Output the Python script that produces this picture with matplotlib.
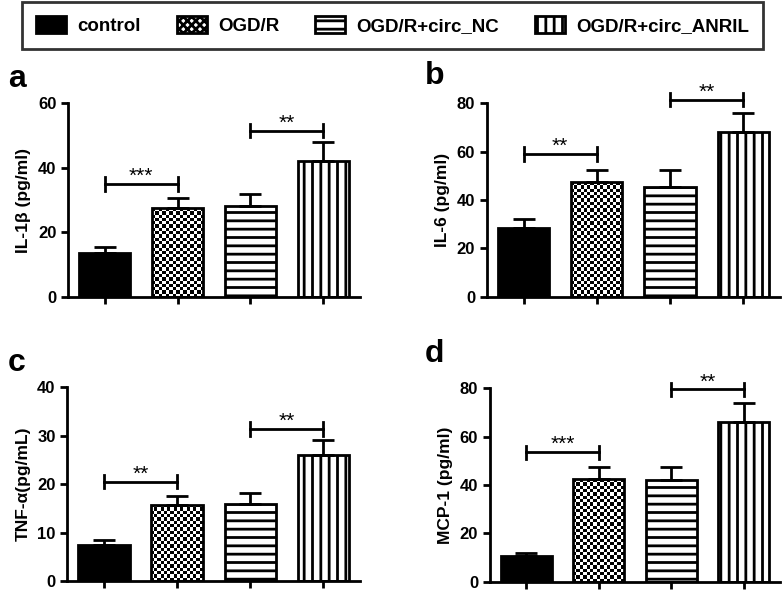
import numpy as np
import matplotlib
matplotlib.use("Agg")
import matplotlib.pyplot as plt
from matplotlib.patches import Patch

plt.rcParams['font.family'] = ['Liberation Sans', 'DejaVu Sans']
plt.rcParams['font.weight'] = 'bold'
plt.rcParams['hatch.linewidth'] = 2.0

groups = ["control", "OGD/R", "OGD/R+circ_NC", "OGD/R+circ_ANRIL"]

il1b = [13.5, 27.5, 28.0, 42.0]
il1b_err = [2.0, 3.0, 4.0, 6.0]
il6 = [28.5, 47.5, 45.5, 68.0]
il6_err = [3.5, 5.0, 7.0, 8.0]
tnf = [7.4, 15.7, 16.0, 26.0]
tnf_err = [1.0, 1.9, 2.2, 3.0]
mcp1 = [10.5, 42.5, 42.0, 66.0]
mcp1_err = [1.5, 5.0, 5.5, 8.0]

# (label, ylabel, values, errors, ymax, ystep, brackets: (i, j, y, stars))
panels = [
    ("a", "IL-1β (pg/ml)", il1b, il1b_err, 60, 20, [(0, 1, 35, "***"), (2, 3, 51.5, "**")]),
    ("b", "IL-6 (pg/ml)", il6, il6_err, 80, 20, [(0, 1, 59, "**"), (2, 3, 81.5, "**")]),
    ("c", "TNF-α(pg/mL)", tnf, tnf_err, 40, 10, [(0, 1, 20.5, "**"), (2, 3, 31.3, "**")]),
    ("d", "MCP-1 (pg/ml)", mcp1, mcp1_err, 80, 20, [(0, 1, 53.5, "***"), (2, 3, 79.5, "**")]),
]

axes_pos = [
    [0.087, 0.497, 0.372, 0.328],
    [0.621, 0.497, 0.374, 0.328],
    [0.086, 0.015, 0.373, 0.329],
    [0.625, 0.014, 0.370, 0.328],
]
letter_pos = [(0.010, 0.840), (0.542, 0.845), (0.010, 0.360), (0.542, 0.374)]

fig = plt.figure(figsize=(7.84, 5.90), dpi=100)
x = np.arange(len(groups))
width = 0.7
hatches = [None, None, "--", "||"]

for (letter, ylabel, vals, errs, ymax, ystep, brackets), pos, lp in zip(panels, axes_pos, letter_pos):
    ax = fig.add_axes(pos)
    ax.set_xlim(-0.5, 3.5)
    ax.set_ylim(0, ymax)

    bars = []
    for i in range(4):
        if i == 0:
            b = ax.bar(x[i], vals[i], width, color="black", edgecolor="black", linewidth=2, zorder=2)
        elif i == 1:
            b = ax.bar(x[i], vals[i], width, facecolor="none", edgecolor="black", linewidth=2, zorder=3)
        else:
            b = ax.bar(x[i], vals[i], width, facecolor="white", edgecolor="black",
                       hatch=hatches[i], linewidth=2, zorder=2)
        bars.append(b[0])

    # checkerboard fill for OGD/R
    cb = bars[1]
    x0, x1 = cb.get_x(), cb.get_x() + cb.get_width()
    p0 = ax.transData.transform((x0, 0))
    p1 = ax.transData.transform((x1, vals[1]))
    nc = max(1, int(round((p1[0] - p0[0]) / 3.3)))
    nr = max(1, int(round((p1[1] - p0[1]) / 3.3)))
    checker = (np.indices((nr, nc)).sum(axis=0) % 2).astype(float)
    im = ax.imshow(checker, extent=(x0, x1, 0, vals[1]), aspect="auto", cmap="gray",
                   interpolation="nearest", zorder=2)
    im.set_clip_path(cb)
    ax.set_xlim(-0.5, 3.5)
    ax.set_ylim(0, ymax)

    ax.errorbar(x, vals, yerr=[[0] * 4, errs], fmt="none", ecolor="black",
                elinewidth=2, capsize=8, capthick=2, zorder=4)

    for i, j, yb, stars in brackets:
        d = 0.035 * ymax
        ax.plot([x[i], x[j]], [yb, yb], color="black", lw=2, clip_on=False)
        ax.plot([x[i], x[i]], [yb - d, yb + d], color="black", lw=2, clip_on=False)
        ax.plot([x[j], x[j]], [yb - d, yb + d], color="black", lw=2, clip_on=False)
        ax.annotate(stars, xy=((x[i] + x[j]) / 2, yb), xytext=(0, 1.5), textcoords="offset points",
                    ha="center", va="baseline", fontsize=15, fontweight="normal",
                    annotation_clip=False)

    ax.set_yticks(np.arange(0, ymax + 1, ystep))
    ax.set_xticks(x)
    ax.tick_params(axis="x", labelbottom=False, length=5, width=2)
    ax.tick_params(axis="y", length=5, width=2, labelsize=12)
    for t in ax.get_yticklabels():
        t.set_fontweight("bold")
    ax.spines["top"].set_visible(False)
    ax.spines["right"].set_visible(False)
    ax.spines["left"].set_linewidth(2)
    ax.spines["bottom"].set_linewidth(2)
    ax.set_ylabel(ylabel, fontsize=12.5, fontweight="bold", labelpad=5)

    fig.text(lp[0], lp[1], letter, fontsize=23, fontweight="bold", ha="left", va="bottom")

handles = [
    Patch(facecolor="black", edgecolor="black", linewidth=2),
    Patch(facecolor="white", edgecolor="black", hatch="xxxx", linewidth=2),
    Patch(facecolor="white", edgecolor="black", hatch="--", linewidth=2),
    Patch(facecolor="white", edgecolor="black", hatch="||", linewidth=2),
]
leg = fig.legend(handles, groups, loc="upper left", bbox_to_anchor=(0.028, 0.915, 0.945, 0.082),
                 mode="expand", ncol=4, frameon=True, fancybox=False,
                 handlelength=1.6, handleheight=1.0, borderaxespad=0, borderpad=0.75,
                 columnspacing=1.0, handletextpad=0.6,
                 prop={"weight": "bold", "size": 13.5})
leg.get_frame().set_edgecolor("black")
leg.get_frame().set_linewidth(2)

fig.savefig("out.png", dpi=100)
